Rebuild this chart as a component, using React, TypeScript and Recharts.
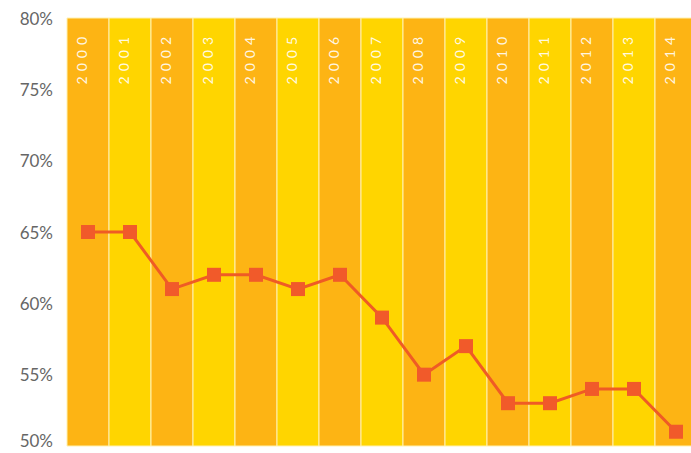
import React from 'react';
import { ComposedChart, Bar, Line, XAxis, YAxis, Cell, LabelList } from 'recharts';

// years and share values
const years = ['2000', '2001', '2002', '2003', '2004', '2005', '2006', '2007', '2008', '2009', '2010', '2011', '2012', '2013', '2014'];
const shares = [65, 65, 61, 62, 62, 61, 62, 59, 55, 57, 53, 53, 54, 54, 51];
const yTicks = [50, 55, 60, 65, 70, 75, 80];
const bandTop = 80;

const data = years.map((year, i) => ({ year, share: shares[i], band: bandTop }));

const ORANGE = '#FDB414';
const YELLOW = '#FFD500';
const LINE = '#EF5B25';

const YearLabel = (props: any) => {
  const { x, y, width, value } = props;
  const cx = x + width / 2 - 7;
  const ty = y + 14;
  return (
    <text
      x={cx}
      y={ty}
      transform={`rotate(-90, ${cx}, ${ty})`}
      textAnchor="end"
      dominantBaseline="central"
      fill="#FFFFFF"
      fillOpacity={0.9}
      fontSize={14}
      letterSpacing={5}
      fontFamily="Lato, 'Open Sans', sans-serif"
    >
      {value}
    </text>
  );
};

// y tick; the bottom one is nudged up so it stays inside the picture
const PercentTick = (props: any) => {
  const { x, y, payload } = props;
  const shift = payload.value === yTicks[0] ? -6 : 0;
  return (
    <text
      x={x}
      y={y + shift}
      textAnchor="end"
      dominantBaseline="central"
      fill="#666666"
      fontSize={17}
      fontFamily="Lato, 'Open Sans', sans-serif"
    >
      {`${payload.value}%`}
    </text>
  );
};

const SquareDot = (props: any) => {
  const { cx, cy, index } = props;
  if (cx == null || cy == null) return null;
  return <rect key={`dot-${index}`} x={cx - 7} y={cy - 7} width={14} height={14} fill="#F15A2A" />;
};

export default function App() {
  return (
    <div style={{ position: 'absolute', left: 0, top: 0, width: 691, height: 453, overflow: 'hidden', background: '#fff' }}>
      <ComposedChart
        width={697}
        height={453}
        data={data}
        margin={{ top: 18, right: 0, bottom: 7, left: 0 }}
        barCategoryGap={0}
      >
        <XAxis dataKey="year" hide />
        <YAxis
          width={67}
          domain={[50, 80]}
          ticks={yTicks}
          interval={0}
          axisLine={false}
          tickLine={false}
          tickMargin={8}
          tick={<PercentTick />}
        />
        <Bar dataKey="band" isAnimationActive={false}>
          {data.map((d, i) => (
            <Cell key={`band-${d.year}`} fill={i % 2 === 0 ? ORANGE : YELLOW} stroke="#FFF1B0" strokeWidth={1} />
          ))}
          <LabelList dataKey="year" content={<YearLabel />} />
        </Bar>
        <Line
          type="linear"
          dataKey="share"
          stroke={LINE}
          strokeWidth={3}
          dot={<SquareDot />}
          activeDot={false}
          isAnimationActive={false}
        />
      </ComposedChart>
    </div>
  );
}
